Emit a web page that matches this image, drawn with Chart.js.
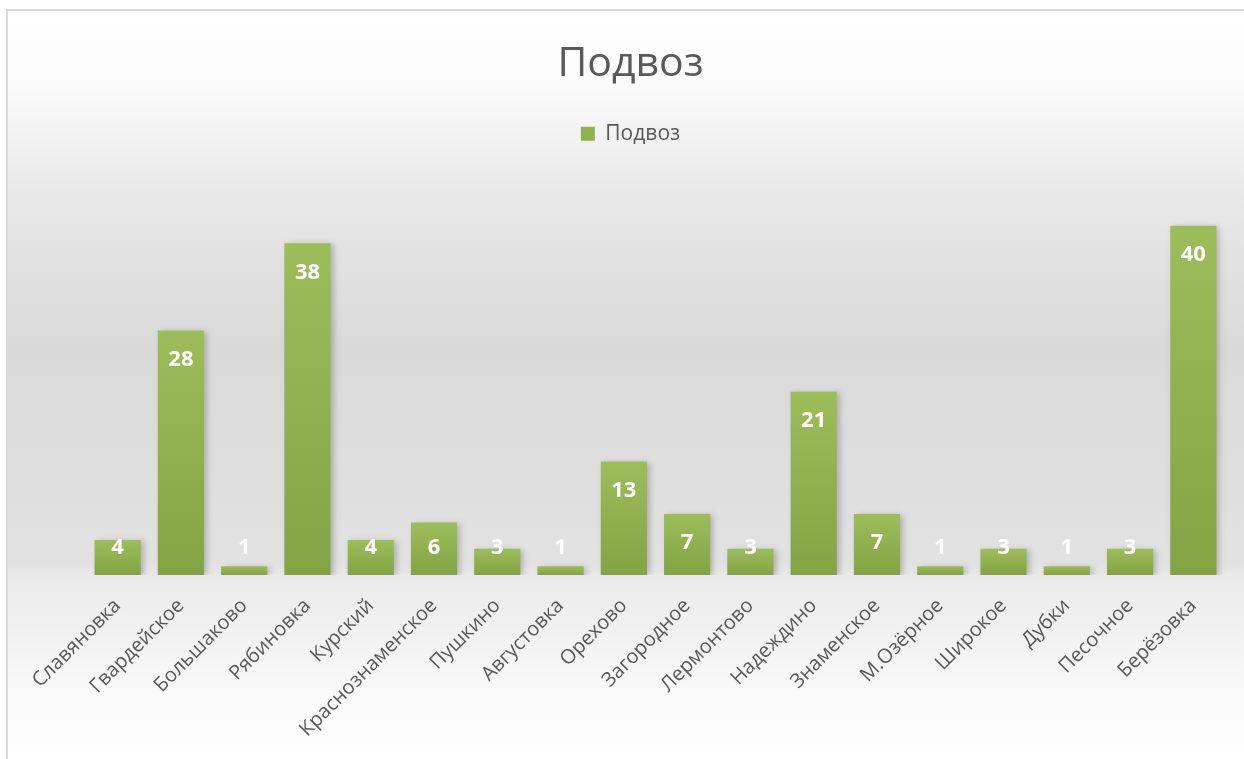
<!DOCTYPE html>
<html>
<head>
<meta charset="utf-8">
<script src="https://cdn.jsdelivr.net/npm/chart.js@4.4.1/dist/chart.umd.min.js"></script>
<style>
  html, body { margin: 0; padding: 0; background: #fff; }
  #wrap { width: 1244px; height: 759px; position: relative; }
</style>
</head>
<body>
<div id="wrap"><canvas id="graph" width="1244" height="759"></canvas></div>
<script>
'use strict';

const categories = ['Славяновка', 'Гвардейское', 'Большаково', 'Рябиновка', 'Курский',
    'Краснознаменское', 'Пушкино', 'Августовка', 'Орехово', 'Загородное', 'Лермонтово',
    'Надеждино', 'Знаменское', 'М.Озёрное', 'Широкое', 'Дубки', 'Песочное', 'Берёзовка'];
const podvoz = [4, 28, 1, 38, 4, 6, 3, 1, 13, 7, 3, 21, 7, 1, 3, 1, 3, 40];

const seriesName = 'Подвоз';
const titleText = 'Подвоз';

const FONT = "'Open Sans', 'Noto Sans', sans-serif";

// background gradient + the frame of the chart
const backdrop = {
    id: 'backdrop',
    beforeDraw(chart) {
        const ctx = chart.ctx;
        const h = chart.height;
        ctx.save();
        const g = ctx.createLinearGradient(0, 10, 0, h);
        g.addColorStop(0, '#ffffff');
        g.addColorStop(0.1, '#fbfbfb');
        g.addColorStop(0.25, '#e8e8e8');
        g.addColorStop(0.45, '#d9d9d9');
        g.addColorStop(0.74, '#e2e2e2');
        g.addColorStop(0.76, '#ebebeb');
        g.addColorStop(0.9, '#f8f8f8');
        g.addColorStop(1, '#ffffff');
        ctx.fillStyle = g;
        ctx.fillRect(7, 10, chart.width, h);
        ctx.strokeStyle = '#d9d9d9';
        ctx.lineWidth = 2;
        ctx.strokeRect(7, 10, chart.width + 10, h + 10);
        ctx.restore();
    }
};

// soft shadow under the bars
const barShadow = {
    id: 'barShadow',
    beforeDatasetsDraw(chart) {
        const ctx = chart.ctx;
        ctx.save();
        ctx.shadowColor = 'rgba(0,0,0,0.22)';
        ctx.shadowBlur = 6;
        ctx.shadowOffsetX = 3;
        ctx.shadowOffsetY = 1;
    },
    afterDatasetsDraw(chart) {
        chart.ctx.restore();
    }
};

// white value labels at the inner end of each bar
const valueLabels = {
    id: 'valueLabels',
    afterDatasetsDraw(chart) {
        const ctx = chart.ctx;
        const meta = chart.getDatasetMeta(0);
        ctx.save();
        ctx.fillStyle = '#ffffff';
        ctx.font = 'bold 22px ' + FONT;
        ctx.textAlign = 'center';
        ctx.textBaseline = 'middle';
        meta.data.forEach(function (bar, i) {
            const y = Math.min(bar.y + 29, bar.base - 27);
            ctx.fillText(String(podvoz[i]), bar.x, y);
        });
        ctx.restore();
    }
};

function barFill(c) {
    if (c.type !== 'data') return '#8fb14e';
    const y = c.chart.scales.y;
    if (!y) return '#8fb14e';
    const top = y.getPixelForValue(c.raw);
    const bottom = y.getPixelForValue(0);
    const g = c.chart.ctx.createLinearGradient(0, top, 0, bottom);
    g.addColorStop(0, '#9dbd5b');
    g.addColorStop(1, '#84a344');
    return g;
}

new Chart('graph', {
    type: 'bar',
    data: {
        labels: categories,
        datasets: [{
            label: seriesName,
            data: podvoz,
            backgroundColor: barFill,
            borderWidth: 0,
            barPercentage: 0.73,
            categoryPercentage: 1
        }]
    },
    plugins: [backdrop, barShadow, valueLabels],
    options: {
        responsive: false,
        animation: false,
        layout: { padding: { left: 36, right: 19, top: 10, bottom: 10 } },
        plugins: {
            title: {
                display: true,
                text: titleText,
                color: '#595959',
                font: { family: FONT, size: 41, weight: 'normal' },
                padding: { top: 30, bottom: 24 }
            },
            legend: {
                display: true,
                labels: {
                    color: '#595959',
                    font: { family: FONT, size: 21 },
                    boxWidth: 14,
                    boxHeight: 14,
                    generateLabels: function () {
                        return [{ text: seriesName, fillStyle: '#8fb14e', strokeStyle: '#8fb14e', lineWidth: 0, fontColor: '#595959', datasetIndex: 0 }];
                    }
                }
            },
            tooltip: { enabled: false }
        },
        scales: {
            x: {
                grid: { display: false },
                border: { display: false },
                ticks: {
                    color: '#595959',
                    font: { family: FONT, size: 20 },
                    minRotation: 45,
                    maxRotation: 45,
                    autoSkip: false,
                    padding: 11
                },
                afterFit: function (scale) { scale.height = 174; }
            },
            y: {
                display: true,
                min: 0,
                max: 48.2,
                grid: { display: false },
                border: { display: false },
                ticks: { display: false },
                afterFit: function (scale) { scale.width = 50; }
            }
        }
    }
});
</script>
</body>
</html>
